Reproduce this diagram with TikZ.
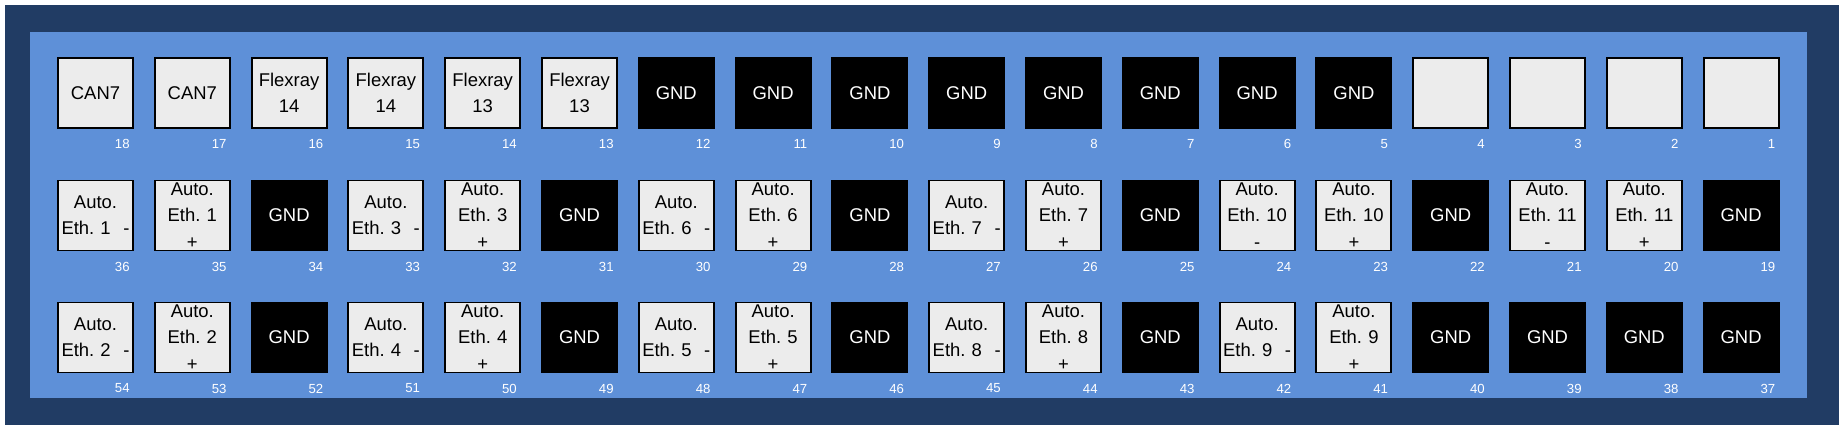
\documentclass[tikz,border=0pt]{standalone}
\usepackage{fontspec}
\setmainfont{Liberation Sans}
\usetikzlibrary{calc}
\definecolor{framebg}{HTML}{213C64}
\definecolor{panelbg}{HTML}{5E90D8}
\definecolor{padfill}{HTML}{ECECEC}
\newcommand{\ethm}[1]{Auto.\\Eth.~#1\hskip 0pt plus 1filll -}
\newcommand{\ethp}[2]{Auto.\\Eth.~#1\\#2}

\begin{document}
\begin{tikzpicture}[x=0.02cm, y=-0.02cm,
  lightpad/.style={draw, line width=1.1pt, fill=padfill, minimum width=1.5cm, minimum height=1.4cm,
    text width=1.36cm, inner xsep=0.07cm, inner ysep=0pt, align=center, font=\fontsize{10.5}{15}\selectfont},
  gndpad/.style={lightpad, fill=black, text=white},
  pinno/.style={font=\fontsize{7.5}{8}\selectfont, text=white, inner sep=0pt, anchor=east}]
\useasboundingbox (0,0) rectangle (1842,430);
% connector housing
\fill[framebg] (5,5) rectangle (1839,425);
\fill[panelbg] (30,32) rectangle (1807,398);
% row 1: pins 18 .. 1
\foreach \c/\s/\t [evaluate=\c as \n using {int(18-\c)}] in {0/lightpad/CAN7, 1/lightpad/CAN7,
    2/lightpad/{Flexray\\14}, 3/lightpad/{Flexray\\14}, 4/lightpad/{Flexray\\13}, 5/lightpad/{Flexray\\13},
    6/gndpad/GND, 7/gndpad/GND, 8/gndpad/GND, 9/gndpad/GND, 10/gndpad/GND, 11/gndpad/GND,
    12/gndpad/GND, 13/gndpad/GND, 14/lightpad/{}, 15/lightpad/{}, 16/lightpad/{}, 17/lightpad/{}}{
  \node[\s] (p\n) at ({95.5+96.8*\c},93) {\t};
  \node[pinno] (n\n) at ($(p\n.south east)+(-4,15)$) {\n};
}
% row 2: pins 36 .. 19
\foreach \c/\s/\t [evaluate=\c as \n using {int(36-\c)}] in {0/lightpad/{\ethm{1}}, 1/lightpad/{\ethp{1}{+}},
    2/gndpad/GND, 3/lightpad/{\ethm{3}}, 4/lightpad/{\ethp{3}{+}}, 5/gndpad/GND,
    6/lightpad/{\ethm{6}}, 7/lightpad/{\ethp{6}{+}}, 8/gndpad/GND, 9/lightpad/{\ethm{7}},
    10/lightpad/{\ethp{7}{+}}, 11/gndpad/GND, 12/lightpad/{\ethp{10}{-}}, 13/lightpad/{\ethp{10}{+}},
    14/gndpad/GND, 15/lightpad/{\ethp{11}{-}}, 16/lightpad/{\ethp{11}{+}}, 17/gndpad/GND}{
  \node[\s] (p\n) at ({95.5+96.8*\c},215.5) {\t};
  \node[pinno] (n\n) at ($(p\n.south east)+(-4,15)$) {\n};
}
% row 3: pins 54 .. 37
\foreach \c/\s/\t [evaluate=\c as \n using {int(54-\c)}] in {0/lightpad/{\ethm{2}}, 1/lightpad/{\ethp{2}{+}},
    2/gndpad/GND, 3/lightpad/{\ethm{4}}, 4/lightpad/{\ethp{4}{+}}, 5/gndpad/GND,
    6/lightpad/{\ethm{5}}, 7/lightpad/{\ethp{5}{+}}, 8/gndpad/GND, 9/lightpad/{\ethm{8}},
    10/lightpad/{\ethp{8}{+}}, 11/gndpad/GND, 12/lightpad/{\ethm{9}}, 13/lightpad/{\ethp{9}{+}},
    14/gndpad/GND, 15/gndpad/GND, 16/gndpad/GND, 17/gndpad/GND}{
  \node[\s] (p\n) at ({95.5+96.8*\c},337.5) {\t};
  \node[pinno] (n\n) at ($(p\n.south east)+(-4,15)$) {\n};
}
\end{tikzpicture}
\end{document}
